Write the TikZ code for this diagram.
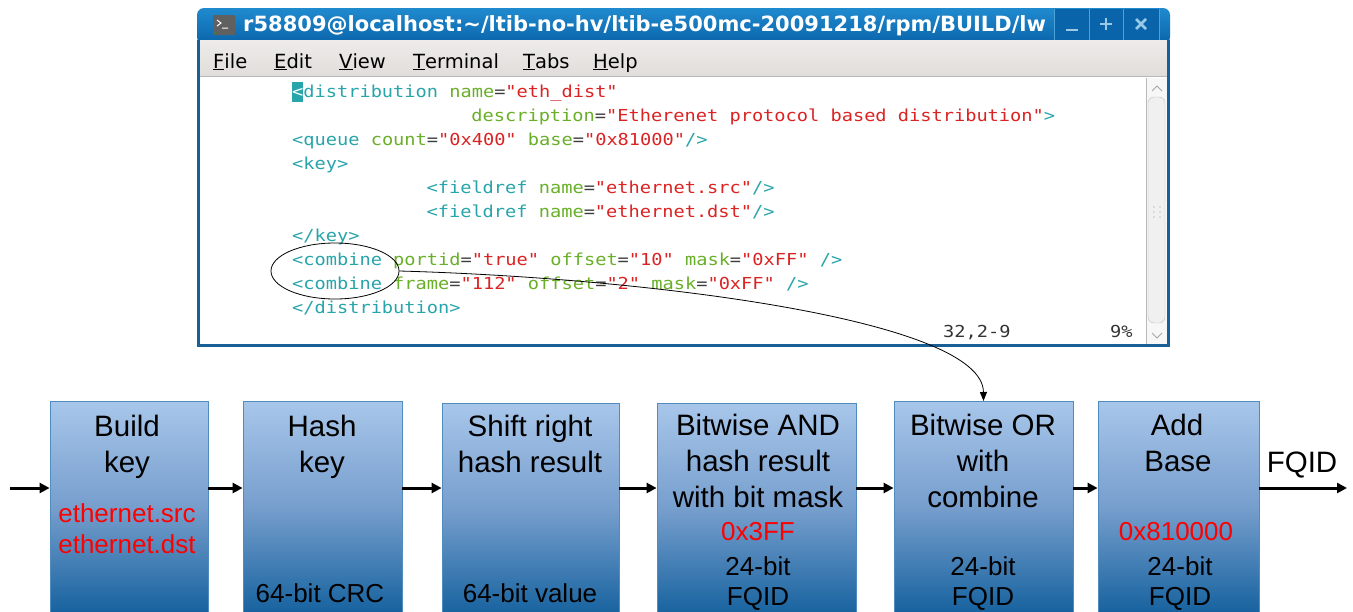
\documentclass[tikz,border=0pt]{standalone}
\usepackage{fontspec}
\setmainfont{Liberation Sans}
\newfontfamily\codefont[FakeStretch=1.13]{DejaVu Sans Mono}
\newfontfamily\guifont{DejaVu Sans}
\usepackage{xcolor}
\definecolor{winblue}{RGB}{24,96,150}
\definecolor{titletop}{RGB}{32,138,206}
\definecolor{titlebot}{RGB}{10,100,170}
\definecolor{menutop}{RGB}{238,236,234}
\definecolor{menubot}{RGB}{224,221,218}
\definecolor{xmltag}{RGB}{40,165,170}
\definecolor{xmlatt}{RGB}{105,175,40}
\definecolor{xmlval}{RGB}{220,35,35}
\definecolor{xmleq}{RGB}{60,60,60}
\definecolor{stagetop}{RGB}{168,198,234}
\definecolor{stagemid}{RGB}{118,158,205}
\definecolor{stagebot}{RGB}{22,98,158}
\definecolor{stageedge}{RGB}{80,140,190}
\usepackage{tikz}
\usetikzlibrary{
  shapes.geometric,
  arrows.meta,
  positioning
}

\newcommand{\xtag}[1]{\textcolor{xmltag}{#1}}
\newcommand{\xatt}[1]{\textcolor{xmlatt}{#1}}
\newcommand{\xval}[1]{\textcolor{xmlval}{#1}}
\newcommand{\xeq}{\textcolor{xmleq}{=}}

\tikzset{
  xmlline/.style={font=\codefont\fontsize{16.5}{20}\selectfont, anchor=base west, inner sep=0pt},
  menuitem/.style={font=\guifont\fontsize{19.5}{22}\selectfont, anchor=base west, inner sep=0pt},
  stage/.style={draw=stageedge, line width=0.8pt, top color=stagetop, bottom color=stagebot,
    middle color=stagemid, minimum height=212pt, anchor=north, inner sep=0pt},
  stagetxt/.style={font=\fontsize{29.5}{36}\selectfont, anchor=base, inner sep=0pt},
  stagesub/.style={font=\fontsize{26}{31}\selectfont, anchor=base, inner sep=0pt},
  stagehot/.style={stagesub, text=red},
  flow/.style={line width=3pt, -{Triangle[length=10pt,width=10pt]}},
  pointer/.style={line width=0.8pt, -{Triangle[length=9pt,width=7pt]}},
  winbtn/.style={line width=2.5pt, color=titletop!45!white}
}

\begin{document}
\begin{tikzpicture}[x=1pt, y=-1pt]
  \useasboundingbox (0,0) rectangle (1353,611);

  % terminal window
  \shade[top color=titletop, bottom color=titlebot, rounded corners=7pt]
    (197,44) -- (197,8) -- (1170,8) -- (1170,44) -- cycle;
  \shade[top color=menutop, bottom color=menubot] (199,40) rectangle (1168,76);
  \fill[white] (199,77) rectangle (1168,345);
  \draw[gray!55] (199,76.5) -- (1168,76.5);
  \draw[winblue, line width=3pt] (198.5,40) -- (198.5,345.5) -- (1168.5,345.5) -- (1168.5,40);

  \fill[gray!75!black, rounded corners=1pt] (213,15) rectangle (235,35);
  \draw[white, line width=1pt] (217,20) -- (221,23) -- (217,26) (222,28) -- (228,28);
  \fill[green!70!black] (215.5,32.5) circle (1pt);
  \node[font=\guifont\bfseries\fontsize{21}{24}\selectfont, text=white, anchor=base west, inner sep=0pt]
    (title) at (243,31) {r58809@localhost:\textasciitilde/ltib-no-hv/ltib-e500mc-20091218/rpm/BUILD/lw};

  \fill[titlebot] (1054,9) rectangle (1159,40);
  \draw[titletop!80!white] (1054,9) -- (1054,40) (1089,9) -- (1089,40) (1123,9) -- (1123,40) (1159,9) -- (1159,40);
  \draw[winbtn] (1066,30) -- (1078,30);
  \draw[winbtn] (1100,24) -- (1112,24) (1106,18) -- (1106,30);
  \draw[winbtn] (1136,19) -- (1146,29) (1136,29) -- (1146,19);

  \node[menuitem] (mfile) at (213,68) {\underline{F}ile};
  \node[menuitem] (medit) at (274,68) {\underline{E}dit};
  \node[menuitem] (mview) at (339,68) {\underline{V}iew};
  \node[menuitem] (mterm) at (413,68) {\underline{T}erminal};
  \node[menuitem] (mtabs) at (523,68) {\underline{T}abs};
  \node[menuitem] (mhelp) at (593,68) {\underline{H}elp};

  % scrollbar
  \fill[gray!6] (1146,78) rectangle (1167,344);
  \draw[gray!55] (1146,78) -- (1146,344);
  \draw[gray!50, fill=gray!12, rounded corners=6pt] (1148,97) rectangle (1165,323);
  \draw[gray!70, line width=1pt] (1152,91) -- (1157,86) -- (1162,91);
  \draw[gray!70, line width=1pt] (1152,333) -- (1157,338) -- (1162,333);
  \foreach \yy in {207,212,217}
    \fill[gray!45] (1154,\yy) circle (0.9pt) (1160,\yy) circle (0.9pt);

  % xml text
  \fill[xmltag] (292,82) rectangle (303.2,102);
  \node[xmlline] (l1) at (292,97) {\textcolor{white}{<}\xtag{distribution} \xatt{name}\xeq\xval{"eth\_dist"}};
  \node[xmlline] (l2) at (471.2,121) {\xatt{description}\xeq\xval{"Etherenet protocol based distribution"}\xtag{>}};
  \node[xmlline] (l3) at (292,145) {\xtag{<queue} \xatt{count}\xeq\xval{"0x400"} \xatt{base}\xeq\xval{"0x81000"}\xtag{/>}};
  \node[xmlline] (l4) at (292,169) {\xtag{<key>}};
  \node[xmlline] (l5) at (426.4,193) {\xtag{<fieldref} \xatt{name}\xeq\xval{"ethernet.src"}\xtag{/>}};
  \node[xmlline] (l6) at (426.4,217) {\xtag{<fieldref} \xatt{name}\xeq\xval{"ethernet.dst"}\xtag{/>}};
  \node[xmlline] (l7) at (292,241) {\xtag{</key>}};
  \node[xmlline] (l8) at (292,265) {\xtag{<combine} \xatt{portid}\xeq\xval{"true"} \xatt{offset}\xeq\xval{"10"} \xatt{mask}\xeq\xval{"0xFF"} \xtag{/>}};
  \node[xmlline] (l9) at (292,289) {\xtag{<combine} \xatt{frame}\xeq\xval{"112"} \xatt{offset}\xeq\xval{"2"} \xatt{mask}\xeq\xval{"0xFF"} \xtag{/>}};
  \node[xmlline] (l10) at (292,313) {\xtag{</distribution>}};
  \node[xmlline, text=black!80] (pos) at (943,337) {32,2-9};
  \node[xmlline, text=black!80] (pct) at (1110,337) {9\%};

  \node[draw, ellipse, line width=0.8pt, minimum width=128pt, minimum height=56pt, inner sep=0pt] (ring) at (335,271) {};

  % pipeline
  \foreach \n/\x/\t/\w in {build/129/401/158, hash/322.5/401/159, shift/530.5/403/177,
      band/756.5/403/199, bor/983.5/401/179, addb/1178.5/401/161}
    \node[stage, minimum width=\w pt] (\n) at (\x,\t) {};

  \coordinate (ay) at (0,488);
  \coordinate (entry) at (10,488);
  \coordinate (exit) at (1347,488);
  \draw[flow] (entry) -- (build.west |- ay);
  \foreach \a/\b in {build/hash, hash/shift, shift/band, band/bor, bor/addb}
    \draw[flow] (\a.east |- ay) -- (\b.west |- ay);
  \draw[flow] (addb.east |- ay) -- (exit);
  \node[stagetxt] (fqid) at (1302,472) {FQID};

  \node[stagetxt] (build1) at (127,436) {Build};
  \node[stagetxt] (build2) at (127,472) {key};
  \node[stagehot] (build3) at (127,522) {ethernet.src};
  \node[stagehot] (build4) at (127,553) {ethernet.dst};

  \node[stagetxt] (hash1) at (322,436) {Hash};
  \node[stagetxt] (hash2) at (322,472) {key};
  \node[stagesub] (hash3) at (320,602) {64-bit CRC};

  \node[stagetxt] (shift1) at (530,436) {Shift right};
  \node[stagetxt] (shift2) at (530,472) {hash result};
  \node[stagesub] (shift3) at (530,602) {64-bit value};

  \node[stagetxt] (band1) at (758,435) {Bitwise AND};
  \node[stagetxt] (band2) at (758,471) {hash result};
  \node[stagetxt] (band3) at (758,507) {with bit mask};
  \node[stagehot] (band4) at (758,540) {0x3FF};
  \node[stagesub] (band5) at (758,575) {24-bit};
  \node[stagesub] (band6) at (758,605) {FQID};

  \node[stagetxt] (bor1) at (983,435) {Bitwise OR};
  \node[stagetxt] (bor2) at (983,471) {with};
  \node[stagetxt] (bor3) at (983,507) {combine};
  \node[stagesub] (bor4) at (983,575) {24-bit};
  \node[stagesub] (bor5) at (983,605) {FQID};

  \node[stagetxt] (addb1) at (1177,435) {Add};
  \node[stagetxt] (addb2) at (1178,471) {Base};
  \node[stagehot] (addb3) at (1176,540) {0x810000};
  \node[stagesub] (addb4) at (1180,575) {24-bit};
  \node[stagesub] (addb5) at (1180,605) {FQID};

  \draw[pointer] (ring.east) .. controls (650,278) and (983,320) .. (bor.north);
\end{tikzpicture}
\end{document}
